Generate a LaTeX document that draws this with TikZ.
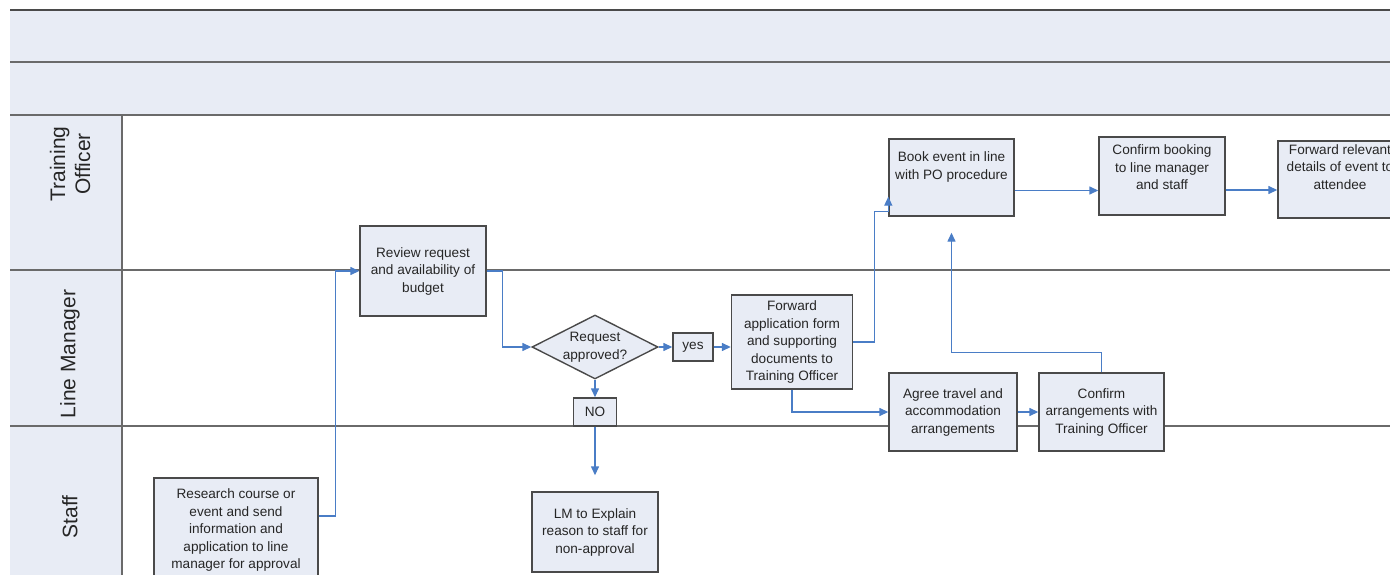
\documentclass[tikz,border=0pt]{standalone}
\usepackage{fontspec}
\setmainfont{Liberation Sans}
\usetikzlibrary{arrows.meta, positioning, shapes.geometric}
\definecolor{paleblue}{HTML}{E8ECF5}
\definecolor{framegray}{HTML}{4A4A4A}
\definecolor{lanegray}{HTML}{6A6A6A}
\definecolor{flowblue}{HTML}{4A7DC6}
\tikzset{
	flowchart/.is family,
	flowchart/.cd,
	task/.style = {
		draw = framegray,
		line width = 1.4pt,
		fill = paleblue,
		align = center,
		inner sep = 1pt,
		font = \fontsize{13.6}{17.5}\selectfont,
		text = black!85,
	},
	decision/.style = {
		flowchart/task,
		diamond,
		aspect = 2,
		inner sep = 0pt,
	},
	flow/.style = {
		draw = flowblue,
		line width = 1.4pt,
		-{Triangle[length = 9pt, width = 8pt]},
	},
	lane line/.style = {
		draw = lanegray,
		line width = 1.4pt,
	},
	lane label/.style = {
		rotate = 90,
		align = center,
		font = \fontsize{21}{25}\selectfont,
		text = black!85,
	},
}

\begin{document}
\begin{tikzpicture}[x = 1pt, y = -1pt]
	\useasboundingbox (0, 0) rectangle (1390, 575);
	\clip (0, 0) rectangle (1390, 575);

	% pool header and lane column
	\fill[paleblue] (10, 10) rectangle (1390, 115);
	\fill[paleblue] (10, 115) rectangle (122, 575);
	\draw[flowchart/lane line, draw = framegray] (10, 10) -- (1390, 10);
	\draw[flowchart/lane line] (10, 62) -- (1390, 62);
	\draw[flowchart/lane line] (10, 115) -- (1390, 115);
	\draw[flowchart/lane line] (10, 270) -- (1390, 270);
	\draw[flowchart/lane line] (10, 426) -- (1390, 426);
	\draw[flowchart/lane line] (122, 115) -- (122, 575);

	\node[flowchart/lane label] (officer) at (70, 164) {Training\\Officer};
	\node[flowchart/lane label] (manager) at (70, 354) {Line Manager};
	\node[flowchart/lane label] (staff) at (70, 517) {Staff};

	% steps
	\node[flowchart/task, minimum width = 164, minimum height = 104] (research) at (236, 530)
		{Research course or\\event and send\\information and\\application to line\\manager for approval};
	\node[flowchart/task, minimum width = 126, minimum height = 90] (review) at (423, 271)
		{Review request\\and availability of\\budget};
	\node[flowchart/decision, minimum width = 126, minimum height = 64] (approved) at (595, 347)
		{Request\\approved?};
	\node[flowchart/task, minimum width = 40, minimum height = 28] (yes) at (693, 347) {yes};
	\node[flowchart/task, minimum width = 43, minimum height = 28] (no) at (595, 412) {NO};
	\node[flowchart/task, minimum width = 126, minimum height = 80] (explain) at (595, 532)
		{LM to Explain\\reason to staff for\\non-approval};
	\node[flowchart/task, minimum width = 121, minimum height = 94] (forward) at (792, 342)
		{Forward\\application form\\and supporting\\documents to\\Training Officer};
	\node[flowchart/task, minimum width = 125, minimum height = 77] (book) at (951.5, 177.5)
		{Book event in line\\with PO procedure\\[6.5pt]\mbox{}};
	\node[flowchart/task, minimum width = 126, minimum height = 78] (confirmbook) at (1162, 176)
		{Confirm booking\\to line manager\\and staff\\\mbox{}};
	\node[flowchart/task, minimum width = 124, minimum height = 77] (relevant) at (1340, 179.5)
		{Forward relevant\\details of event to\\attendee\\[7.5pt]\mbox{}};
	\node[flowchart/task, minimum width = 128, minimum height = 78] (agree) at (953, 412)
		{Agree travel and\\accommodation\\arrangements};
	\node[flowchart/task, minimum width = 125, minimum height = 78] (confirmarr) at (1101.5, 412)
		{Confirm\\arrangements with\\Training Officer};

	% connectors
	\coordinate (bookout) at ([yshift = -13pt]book.east);
	\coordinate (confout) at ([yshift = -14pt]confirmbook.east);
	\draw[flowchart/flow] ([yshift = 14pt]research.east) -- ++(17, 0) |- (review.west);
	\draw[flowchart/flow] (review.east) -- ++(16, 0) |- (approved.west);
	\draw[flowchart/flow] (approved.east) -- (yes.west);
	\draw[flowchart/flow] (yes.east) -- (yes.east -| forward.west);
	\draw[flowchart/flow] (approved.south) -- (no.north);
	\draw[flowchart/flow, shorten >= 16pt] (no.south) -- (explain.north);
	\draw[flowchart/flow] (forward.east) -- ++(21, 0) |- ([yshift = 5pt]book.south west) -- ([yshift = 20pt]book.south west);
	\draw[flowchart/flow] (bookout) -- (bookout -| confirmbook.west);
	\draw[flowchart/flow] (confout) -- (confout -| relevant.west);
	\draw[flowchart/flow] (forward.south) |- (agree.west);
	\draw[flowchart/flow] (agree.east) -- (confirmarr.west);
	\draw[flowchart/flow] (confirmarr.north) -- ++(0, -20) -| ([yshift = -16pt]book.south);
\end{tikzpicture}
\end{document}
